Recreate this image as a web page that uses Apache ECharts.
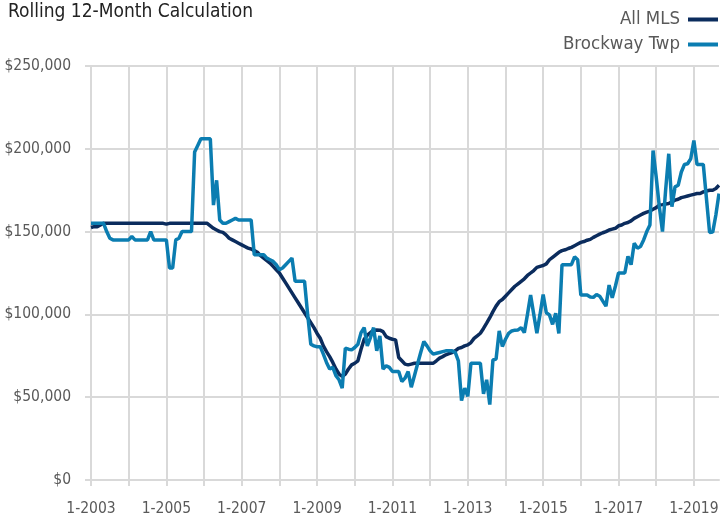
<!DOCTYPE html>
<html>
<head>
<meta charset="utf-8">
<script src="https://cdn.jsdelivr.net/npm/echarts@6/dist/echarts.min.js"></script>
<style>
    html, body {margin: 0; padding: 0; background: #fff;}
    #chart {width: 720px; height: 515px;}
</style>
</head>
<body>
<div id="chart"></div>
<script>
// monthly values, in thousands of dollars, from 1-2003
const allMls = [
    152.5,153,153,154,155,155,155,155,155,155,
    155,155,155,155,155,155,155,155,155,155,
    155,155,155,155,154.5,155,155,155,155,155,
    155,155,155,155,155,155,155,155,153.5,152,
    151,150,149.5,148,146,145,144,143,142,141,
    140,139.5,138.5,137.5,135.5,134,132.5,131,129,127,
    125,122,119,116,113,110,107,104,101,98,
    95,92,88.5,85.6,81,77.5,74.5,71,67,64,
    62.5,64,67,69.5,70.5,72,79,85,87.5,89,
    90.5,90.6,90.5,89.6,86.6,85.6,85,84.6,74,72,
    70,69.5,70,70.5,70.5,70.5,70.5,70.5,70.5,70.5,
    72,73.6,74.5,75.6,76.3,77,78,79.5,80,81,
    81.6,83,85.5,87,88.6,91.5,94.7,98,101.7,105,
    107.7,109,111,113,115,117,118.5,120,121.5,123.5,
    125,126.5,128.4,129,129.5,130.5,133,134.5,136,137.5,
    138.5,139,139.8,140.5,141.5,142.5,143.5,144,144.8,145.3,
    146.5,147.5,148.5,149.3,150,151,151.5,152,153.5,154,
    155,155.5,156.5,158,159,160,161,161.8,162.4,163.5,
    164.5,166,166.3,166.7,167,168,169,169.5,170.5,171,
    171.5,172,172.5,173,173,174,174.5,175,175,176,
    178
];
const brockway = [
    155,155,155,155,155,150,146,145,145,145,
    145,145,145,147,145,145,145,145,145,150,
    145,145,145,145,145,128,128,145,146,150,
    150,150,150,198,202,206,206,206,206,166,
    181,157,155,155,156,157,158,157,157,157,
    157,157,136,136,136,136,134,133,132,130,
    127,128,130,132,134,120,120,120,120,100,
    82,81,80.5,80.5,76,71,67,68,63,60.5,
    55.5,79.6,79,78.6,80,82,89,92,81,86,
    92,78,87,67,69,68,65.5,65.5,65.5,59.5,
    61.5,65.5,56,63,70,77,83.6,81,78,76,
    76.5,77,77.5,78,78,78,77,72,48,55.5,
    50.5,70.5,70.5,70.5,70.5,52,60.5,45.5,72.5,73,
    90,80.6,85,88.5,90,90.5,90.6,92,89,100,
    111.7,100,88.6,100,112,101,99.7,94,100.7,88.5,
    130,130,130,130,134.8,133,111.7,111.7,111.7,110.5,
    110.3,112,111,108,105,117.7,110,117,125,125,
    125,135,130,143,140,141,145,150,154,199,
    183,165,150,175,197,165,177,178,186,190.5,
    191,194,205,190.5,190.5,190.5,170,149.5,149.7,160,
    173
];
const seriesNames = ['All MLS', 'Brockway Twp'];
const seriesColors = ['#0b2c5d', '#0b7db1'];
const yTicks = [0, 50000, 100000, 150000, 200000, 250000];

// month labels like 1-2003, 2-2003 ...
const months = [];
for (let i = 0; i < allMls.length; i++) {
    months.push((i % 12 + 1) + '-' + (2003 + Math.floor(i / 12)));
}

const font = '"DejaVu Sans Condensed", "DejaVu Sans", sans-serif';
const gridColor = '#d9d9d9';
const labelColor = '#595959';

const chart = echarts.init(document.getElementById('chart'));
chart.setOption({
    animation: false,
    title: {
        text: 'Rolling 12-Month Calculation',
        left: 8,
        top: 3,
        padding: 0,
        textStyle: {fontFamily: font, fontSize: 19, fontWeight: 'normal', color: '#222'}
    },
    legend: {
        data: seriesNames,
        orient: 'vertical',
        right: 2,
        top: 9,
        padding: 0,
        align: 'right',
        icon: 'rect',
        itemWidth: 30,
        itemHeight: 4,
        itemGap: 4,
        textStyle: {fontFamily: font, fontSize: 18.5, color: labelColor, lineHeight: 21, padding: [0, 3, 0, 0]}
    },
    grid: {left: 91, right: 1, top: 66, bottom: 35, outerBoundsMode: 'none'},
    xAxis: {
        type: 'category',
        data: months,
        boundaryGap: false,
        axisLine: {lineStyle: {color: gridColor, width: 2}},
        axisTick: {show: true, interval: 11, length: 6, lineStyle: {color: gridColor, width: 2}},
        axisLabel: {interval: 23, margin: 21, fontFamily: font, fontSize: 15.5, color: labelColor},
        splitLine: {show: true, interval: 11, lineStyle: {color: gridColor, width: 2}}
    },
    yAxis: {
        type: 'value',
        min: yTicks[0],
        max: yTicks[yTicks.length - 1],
        interval: yTicks[1] - yTicks[0],
        axisLine: {show: false},
        axisTick: {show: true, length: 6, lineStyle: {color: gridColor, width: 2}},
        axisLabel: {
            margin: 20,
            fontFamily: font,
            fontSize: 15.5,
            color: labelColor,
            formatter: v => '$' + v.toLocaleString('en-US')
        },
        splitLine: {lineStyle: {color: gridColor, width: 2}}
    },
    series: [allMls, brockway].map((vals, k) => ({
        name: seriesNames[k],
        type: 'line',
        data: vals.map(v => v * 1000),
        showSymbol: false,
        color: seriesColors[k],
        lineStyle: {width: 3.5, color: seriesColors[k]}
    }))
});
</script>
</body>
</html>
